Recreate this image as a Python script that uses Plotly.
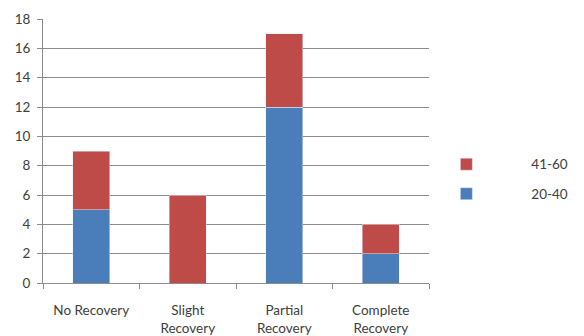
import plotly.graph_objects as go

# Recovery outcome by age group
categories = ["No Recovery", "Slight<br>Recovery", "Partial<br>Recovery", "Complete<br>Recovery"]
age_20_40 = [5, 0, 12, 2]
age_41_60 = [4, 6, 5, 2]
y_ticks = list(range(0, 19, 2))

blue = "#4A7EBB"
red = "#BE4B48"
grid = "#8C8C8C"
text_col = "#404040"

fig = go.Figure()
fig.add_trace(go.Bar(x=categories, y=age_20_40, name="20-40", marker_color=blue,
                     legendgroup="g2040", legendrank=2))
fig.add_trace(go.Bar(x=categories, y=age_41_60, name="41-60", marker_color=red,
                     legendgroup="g4160", legendrank=1))

fig.update_layout(
    width=584, height=336,
    barmode="stack", bargap=0.62,
    paper_bgcolor="white", plot_bgcolor="white",
    margin=dict(l=43, r=154, t=19, b=53),
    font=dict(family="Lato", size=13.5, color=text_col),
    legend=dict(
        x=0.926, xanchor="left", y=0.508, yanchor="top",
        traceorder="grouped", tracegroupgap=9,
        itemwidth=120, bgcolor="rgba(0,0,0,0)",
        font=dict(size=13.5, color=text_col),
    ),
    xaxis=dict(
        showline=True, linecolor=grid, linewidth=1,
        ticks="outside", ticklen=5, tickcolor=grid, tickson="boundaries",
        ticklabelstandoff=15, automargin=False,
    ),
    yaxis=dict(
        range=[0, 18], tickvals=y_ticks,
        showgrid=True, gridcolor=grid, gridwidth=1,
        showline=True, linecolor=grid, linewidth=1,
        ticks="outside", ticklen=5, tickcolor=grid,
        zeroline=False, ticklabelstandoff=4, automargin=False,
    ),
)

fig.write_html("out.html")
